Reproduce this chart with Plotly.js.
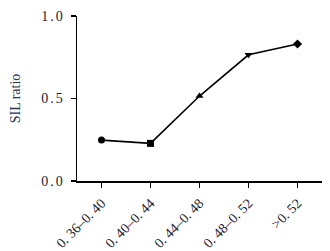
<!DOCTYPE html>
<html><head>
<script src="https://cdn.plot.ly/plotly-3.0.1.min.js"></script>
<style>
html,body{margin:0;padding:0;background:#fff}
#chart{width:330px;height:251px}
#chart .ytick text{letter-spacing:2px}
</style>
</head><body>
<div id="chart"></div>
<script>
const categories = ["0. 36–0. 40", "0. 40–0. 44", "0. 44–0. 48", "0. 48–0. 52", ">0. 52"];
const silRatio = [0.248, 0.228, 0.515, 0.765, 0.83];
const markerSymbols = ["circle", "square", "triangle-up", "triangle-down", "diamond"];
const yTickVals = [0, 0.5, 1.0];
const yTickText = ["0.0", "0.5", "1.0"];

const trace = {
  x: categories.map((c, i) => i),
  y: silRatio,
  mode: "lines+markers",
  line: {color: "#000", width: 1.6},
  marker: {color: "#000", size: 7, symbol: markerSymbols},
  hoverinfo: "skip"
};

const family = "Liberation Serif, Times New Roman, serif";
const layout = {
  width: 330, height: 251,
  margin: {l: 77, r: 8, t: 16, b: 70},
  paper_bgcolor: "#fff", plot_bgcolor: "#fff",
  showlegend: false,
  font: {family: family, color: "#1a1a2e"},
  xaxis: {
    range: [-0.5, 4.5],
    tickvals: categories.map((c, i) => i),
    ticktext: categories,
    tickangle: -45,
    ticks: "outside", ticklen: 5, tickwidth: 1.5, tickcolor: "#000",
    ticklabelstandoff: 2,
    showline: true, linecolor: "#000", linewidth: 1.5,
    showgrid: false, zeroline: false,
    tickfont: {family: family, size: 14, color: "#1a1a2e"},
    automargin: false,
    fixedrange: true
  },
  yaxis: {
    range: [0, 1],
    tickvals: yTickVals,
    ticktext: yTickText,
    ticks: "outside", ticklen: 5, tickwidth: 1.5, tickcolor: "#000",
    ticklabelstandoff: 3,
    showline: true, linecolor: "#000", linewidth: 1.5,
    showgrid: false, zeroline: false,
    tickfont: {family: family, size: 14, color: "#1a1a2e"},
    title: {text: "SIL ratio", font: {family: family, size: 14, color: "#2a3550"}, standoff: 23},
    automargin: false,
    fixedrange: true
  }
};

Plotly.newPlot("chart", [trace], layout, {staticPlot: true, displayModeBar: false});
</script>
</body></html>
